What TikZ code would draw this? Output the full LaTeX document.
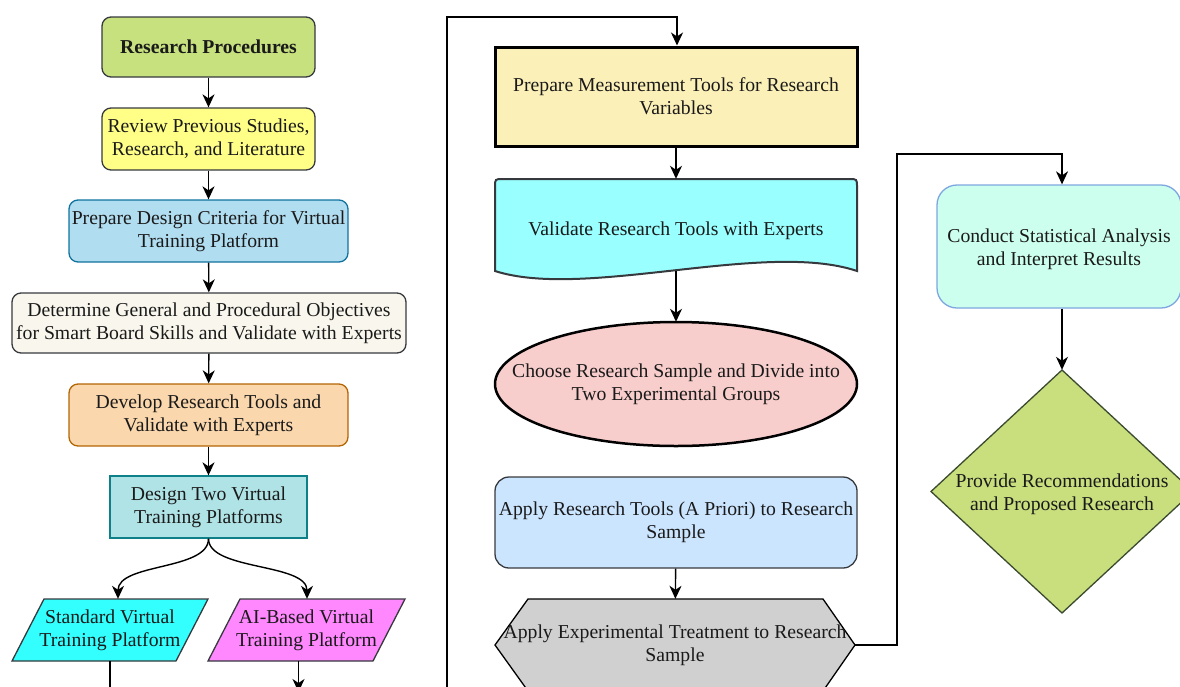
\documentclass[tikz,border=0pt]{standalone}
\usepackage{fontspec}
\setmainfont{Liberation Serif}
\usetikzlibrary{arrows.meta,shapes.geometric,calc}
\definecolor{cgreen}{HTML}{C8E17F}
\definecolor{cyel}{HTML}{FFFF88}
\definecolor{cblue}{HTML}{B1DDF0}
\definecolor{cblueS}{HTML}{10739E}
\definecolor{cbeige}{HTML}{F9F7ED}
\definecolor{cdark}{HTML}{36393D}
\definecolor{corange}{HTML}{FAD7AC}
\definecolor{corangeS}{HTML}{B46504}
\definecolor{cteal}{HTML}{B0E3E6}
\definecolor{ctealS}{HTML}{0E8088}
\definecolor{ccyan}{HTML}{33FFFF}
\definecolor{cmag}{HTML}{FF88FF}
\definecolor{cpm}{HTML}{FCF0B9}
\definecolor{cval}{HTML}{99FFFF}
\definecolor{cpink}{HTML}{F8CECC}
\definecolor{capp}{HTML}{CCE5FF}
\definecolor{chex}{HTML}{D0D0D0}
\definecolor{cmint}{HTML}{CCFFEE}
\definecolor{cmintS}{HTML}{7EA6E0}
\definecolor{cdia}{HTML}{C9DF7E}
\definecolor{cdiaS}{HTML}{3A4A2E}
\definecolor{ctext}{HTML}{1A1A1A}
\begin{document}
\begin{tikzpicture}[x=1pt,y=-1pt,
  every node/.style={font=\fontsize{19.7}{23}\selectfont, align=center, inner sep=0pt, text=ctext},
  rbox/.style={rectangle, rounded corners=9pt, line width=1.3pt},
  sbox/.style={rectangle, line width=1.3pt},
  shp/.style={line width=1.3pt},
  conn/.style={line width=1.4pt, -{Stealth[length=13pt,width=12pt,inset=4pt]}},
  plain/.style={line width=1.4pt}]
\useasboundingbox (0,0) rectangle (1180,686);
\clip (0,0) rectangle (1180,686);

% left column
\node[rbox, draw=cdark, fill=cgreen, minimum width=213pt, minimum height=60pt,
      font=\fontsize{19.7}{23}\selectfont\bfseries] (rp) at (208.5,47) {Research Procedures};
\node[rbox, draw=cdark, fill=cyel, minimum width=213pt, minimum height=62pt] (rev) at (208.5,139)
  {Review Previous Studies,\\Research, and Literature};
\node[rbox, draw=cblueS, fill=cblue, minimum width=279pt, minimum height=62pt] (pdc) at (208.5,231)
  {Prepare Design Criteria for Virtual\\Training Platform};
\node[rbox, draw=cdark, fill=cbeige, minimum width=394pt, minimum height=60pt] (det) at (209,323)
  {Determine General and Procedural Objectives\\for Smart Board Skills and Validate with Experts};
\node[rbox, draw=corangeS, fill=corange, minimum width=279pt, minimum height=62pt] (dev) at (208.5,415)
  {Develop Research Tools and\\Validate with Experts};
\node[sbox, draw=ctealS, fill=cteal, minimum width=197pt, minimum height=62pt] (d2) at (208.5,507)
  {Design Two Virtual\\Training Platforms};

\draw[shp, draw=cdark, fill=ccyan] (44,599) -- (208,599) -- (176,661) -- (12,661) -- cycle;
\node[minimum width=196pt, minimum height=62pt] (std) at (110,630) {Standard Virtual\\Training Platform};
\draw[shp, draw=cdark, fill=cmag] (240,599) -- (405,599) -- (373,661) -- (208,661) -- cycle;
\node[minimum width=197pt, minimum height=62pt] (ai) at (306.5,630) {AI-Based Virtual\\Training Platform};

% middle column
\node[sbox, draw=black, line width=3pt, fill=cpm, minimum width=362pt, minimum height=99pt] (pm) at (676,96.5)
  {Prepare Measurement Tools for Research\\Variables};
\draw[line width=2pt, draw=cdark, fill=cval] (495,271) -- (495,187) .. controls (495,179) .. (503,179)
  -- (849,179) .. controls (857,179) .. (857,187) -- (857,271)
  .. controls (765,240) and (585,300) .. (495,271) -- cycle;
\node[minimum width=362pt, minimum height=92pt] (val) at (676,225) {};
\node (valt) at (676,231) {Validate Research Tools with Experts};
\draw[line width=2.5pt, draw=black, fill=cpink] (676,384) ellipse [x radius=181, y radius=62];
\node[minimum width=362pt, minimum height=124pt] (ell) at (676,384)
  {Choose Research Sample and Divide into\\Two Experimental Groups};
\node[rbox, rounded corners=14pt, draw=cdark, fill=capp, minimum width=362pt, minimum height=91pt] (ap) at (676,522.5)
  {Apply Research Tools (A Priori) to Research\\Sample};
\draw[shp, draw=black, fill=chex] (528,599) -- (823,599) -- (855,645) -- (823,691) -- (528,691) -- (495,645) -- cycle;
\node[minimum width=360pt, minimum height=92pt] (hex) at (675,645)
  {Apply Experimental Treatment to Research\\Sample};

% right column
\node[rbox, rounded corners=20pt, draw=cmintS, fill=cmint, minimum width=244pt, minimum height=123pt] (cs) at (1059,246.5) {};
\node (cst) at (1059,249.5) {Conduct Statistical Analysis\\and Interpret Results};
\draw[shp, draw=cdiaS, fill=cdia] (1062,370) -- (1193,491.5) -- (1062,613) -- (931,491.5) -- cycle;
\node[minimum width=262pt, minimum height=243pt] (dia) at (1062,491.5) {};
\node (diat) at (1062,494.5) {Provide Recommendations\\and Proposed Research};

% connectors
\draw[conn] (rp) -- (rev);
\draw[conn] (rev) -- (pdc);
\draw[conn] (pdc) -- (det);
\draw[conn] (det) -- (dev);
\draw[conn] (dev) -- (d2);
\draw[conn] (d2.south) .. controls +(0,32) and +(0,-36) .. ([xshift=8pt]std.north);
\draw[conn] (d2.south) .. controls +(0,32) and +(0,-36) .. ([xshift=0.5pt]ai.north);
\coordinate (stdEnd) at (110,700);
\draw[plain] (std.south) -- (stdEnd);
\coordinate (aiEnd) at (298.5,692);
\draw[conn] ([xshift=-8pt]ai.south) -- (aiEnd);
\coordinate (loopStart) at (447,700);
\coordinate (loopTop) at (447,17);
\draw[conn] (loopStart) -- (loopTop) -| ([xshift=1pt]pm.north);
\draw[conn] (pm) -- (val);
\draw[conn] (val.south) -- (ell.north);
\draw[conn] (ap) -- (hex);
\coordinate (turn) at (897,154);
\draw[conn] (hex.east) -| (turn) -| ([xshift=3pt]cs.north);
\draw[conn] ([xshift=3pt]cs.south) -- (dia.north);
\end{tikzpicture}
\end{document}
